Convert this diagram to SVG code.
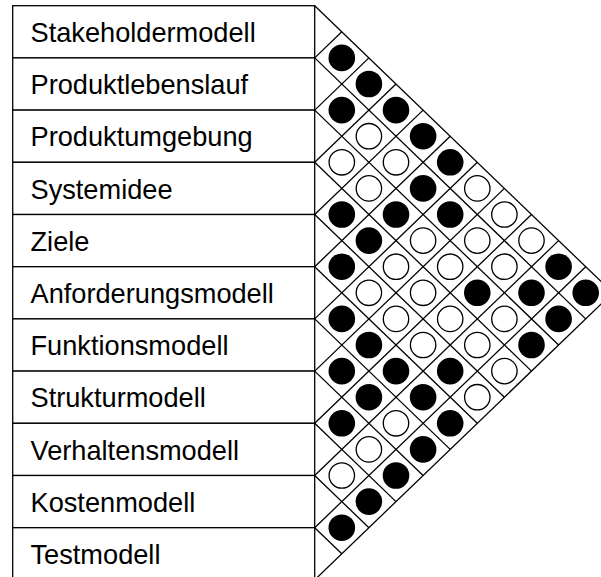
<svg xmlns="http://www.w3.org/2000/svg" width="601" height="577" viewBox="0 0 601 577">
  <style>
    .box { fill: #ffffff; stroke: #000000; stroke-width: 1.3; }
    .lbl { font-family: "Liberation Sans", Arial, sans-serif; font-size: 27.2px; fill: #000000; }
    .grid line { stroke: #000000; stroke-width: 1.3; }
    .on { fill: #000000; }
    .off { fill: #ffffff; stroke: #000000; stroke-width: 1.3; }
  </style>
  <rect width="601" height="577" fill="#ffffff"/>

  <!-- model list, one row per model (row height 52.2) -->
  <g id="stakeholdermodell"><rect class="box" x="12.7" y="5.7" width="302" height="52.2"/><text class="lbl" x="30.5" y="41.9">Stakeholdermodell</text></g>
  <g id="produktlebenslauf"><rect class="box" x="12.7" y="57.9" width="302" height="52.2"/><text class="lbl" x="30.5" y="94.1">Produktlebenslauf</text></g>
  <g id="produktumgebung"><rect class="box" x="12.7" y="110.1" width="302" height="52.2"/><text class="lbl" x="30.5" y="146.3">Produktumgebung</text></g>
  <g id="systemidee"><rect class="box" x="12.7" y="162.3" width="302" height="52.2"/><text class="lbl" x="30.5" y="198.5">Systemidee</text></g>
  <g id="ziele"><rect class="box" x="12.7" y="214.5" width="302" height="52.2"/><text class="lbl" x="30.5" y="250.7">Ziele</text></g>
  <g id="anforderungsmodell"><rect class="box" x="12.7" y="266.7" width="302" height="52.2"/><text class="lbl" x="30.5" y="302.9">Anforderungsmodell</text></g>
  <g id="funktionsmodell"><rect class="box" x="12.7" y="318.9" width="302" height="52.2"/><text class="lbl" x="30.5" y="355.1">Funktionsmodell</text></g>
  <g id="strukturmodell"><rect class="box" x="12.7" y="371.1" width="302" height="52.2"/><text class="lbl" x="30.5" y="407.3">Strukturmodell</text></g>
  <g id="verhaltensmodell"><rect class="box" x="12.7" y="423.3" width="302" height="52.2"/><text class="lbl" x="30.5" y="459.5">Verhaltensmodell</text></g>
  <g id="kostenmodell"><rect class="box" x="12.7" y="475.5" width="302" height="52.2"/><text class="lbl" x="30.5" y="511.7">Kostenmodell</text></g>
  <g id="testmodell"><rect class="box" x="12.7" y="527.7" width="302" height="52.2"/><text class="lbl" x="30.5" y="563.9">Testmodell</text></g>

  <!-- diagonal grid of the relation roof -->
  <g id="connectors" class="grid">
    <!-- falling diagonals from each row boundary -->
    <line x1="314.7" y1="5.7" x2="612.8" y2="292.8"/>
    <line x1="314.7" y1="57.9" x2="585.7" y2="318.9"/>
    <line x1="314.7" y1="110.1" x2="558.6" y2="345.0"/>
    <line x1="314.7" y1="162.3" x2="531.5" y2="371.1"/>
    <line x1="314.7" y1="214.5" x2="504.4" y2="397.2"/>
    <line x1="314.7" y1="266.7" x2="477.3" y2="423.3"/>
    <line x1="314.7" y1="318.9" x2="450.2" y2="449.4"/>
    <line x1="314.7" y1="371.1" x2="423.1" y2="475.5"/>
    <line x1="314.7" y1="423.3" x2="396.0" y2="501.6"/>
    <line x1="314.7" y1="475.5" x2="368.9" y2="527.7"/>
    <line x1="314.7" y1="527.7" x2="341.8" y2="553.8"/>
    <!-- rising diagonals from each row boundary -->
    <line x1="314.7" y1="57.9" x2="341.8" y2="31.8"/>
    <line x1="314.7" y1="110.1" x2="368.9" y2="57.9"/>
    <line x1="314.7" y1="162.3" x2="396.0" y2="84.0"/>
    <line x1="314.7" y1="214.5" x2="423.1" y2="110.1"/>
    <line x1="314.7" y1="266.7" x2="450.2" y2="136.2"/>
    <line x1="314.7" y1="318.9" x2="477.3" y2="162.3"/>
    <line x1="314.7" y1="371.1" x2="504.4" y2="188.4"/>
    <line x1="314.7" y1="423.3" x2="531.5" y2="214.5"/>
    <line x1="314.7" y1="475.5" x2="558.6" y2="240.6"/>
    <line x1="314.7" y1="527.7" x2="585.7" y2="266.7"/>
    <line x1="314.7" y1="579.9" x2="612.8" y2="292.8"/>
  </g>

  <!-- relation marks: filled = strong, open = weak -->
  <g id="relations">
    <circle class="on" cx="341.8" cy="57.9" r="13.3"/>
    <circle class="on" cx="368.9" cy="84.0" r="13.3"/>
    <circle class="on" cx="341.8" cy="110.1" r="13.3"/>
    <circle class="on" cx="396.0" cy="110.1" r="13.3"/>
    <circle class="off" cx="368.9" cy="136.2" r="12.7"/>
    <circle class="on" cx="423.1" cy="136.2" r="13.3"/>
    <circle class="off" cx="341.8" cy="162.3" r="12.7"/>
    <circle class="off" cx="396.0" cy="162.3" r="12.7"/>
    <circle class="on" cx="450.2" cy="162.3" r="13.3"/>
    <circle class="off" cx="368.9" cy="188.4" r="12.7"/>
    <circle class="on" cx="423.1" cy="188.4" r="13.3"/>
    <circle class="off" cx="477.3" cy="188.4" r="12.7"/>
    <circle class="on" cx="341.8" cy="214.5" r="13.3"/>
    <circle class="on" cx="396.0" cy="214.5" r="13.3"/>
    <circle class="on" cx="450.2" cy="214.5" r="13.3"/>
    <circle class="off" cx="504.4" cy="214.5" r="12.7"/>
    <circle class="on" cx="368.9" cy="240.6" r="13.3"/>
    <circle class="off" cx="423.1" cy="240.6" r="12.7"/>
    <circle class="off" cx="477.3" cy="240.6" r="12.7"/>
    <circle class="off" cx="531.5" cy="240.6" r="12.7"/>
    <circle class="on" cx="341.8" cy="266.7" r="13.3"/>
    <circle class="off" cx="396.0" cy="266.7" r="12.7"/>
    <circle class="off" cx="450.2" cy="266.7" r="12.7"/>
    <circle class="off" cx="504.4" cy="266.7" r="12.7"/>
    <circle class="on" cx="558.6" cy="266.7" r="13.3"/>
    <circle class="off" cx="368.9" cy="292.8" r="12.7"/>
    <circle class="off" cx="423.1" cy="292.8" r="12.7"/>
    <circle class="on" cx="477.3" cy="292.8" r="13.3"/>
    <circle class="on" cx="531.5" cy="292.8" r="13.3"/>
    <circle class="on" cx="585.7" cy="292.8" r="13.3"/>
    <circle class="on" cx="341.8" cy="318.9" r="13.3"/>
    <circle class="off" cx="396.0" cy="318.9" r="12.7"/>
    <circle class="off" cx="450.2" cy="318.9" r="12.7"/>
    <circle class="off" cx="504.4" cy="318.9" r="12.7"/>
    <circle class="on" cx="558.6" cy="318.9" r="13.3"/>
    <circle class="on" cx="368.9" cy="345.0" r="13.3"/>
    <circle class="off" cx="423.1" cy="345.0" r="12.7"/>
    <circle class="off" cx="477.3" cy="345.0" r="12.7"/>
    <circle class="on" cx="531.5" cy="345.0" r="13.3"/>
    <circle class="on" cx="341.8" cy="371.1" r="13.3"/>
    <circle class="on" cx="396.0" cy="371.1" r="13.3"/>
    <circle class="on" cx="450.2" cy="371.1" r="13.3"/>
    <circle class="off" cx="504.4" cy="371.1" r="12.7"/>
    <circle class="on" cx="368.9" cy="397.2" r="13.3"/>
    <circle class="on" cx="423.1" cy="397.2" r="13.3"/>
    <circle class="off" cx="477.3" cy="397.2" r="12.7"/>
    <circle class="on" cx="341.8" cy="423.3" r="13.3"/>
    <circle class="off" cx="396.0" cy="423.3" r="12.7"/>
    <circle class="on" cx="450.2" cy="423.3" r="13.3"/>
    <circle class="off" cx="368.9" cy="449.4" r="12.7"/>
    <circle class="on" cx="423.1" cy="449.4" r="13.3"/>
    <circle class="off" cx="341.8" cy="475.5" r="12.7"/>
    <circle class="on" cx="396.0" cy="475.5" r="13.3"/>
    <circle class="on" cx="368.9" cy="501.6" r="13.3"/>
    <circle class="on" cx="341.8" cy="527.7" r="13.3"/>
  </g>
</svg>
